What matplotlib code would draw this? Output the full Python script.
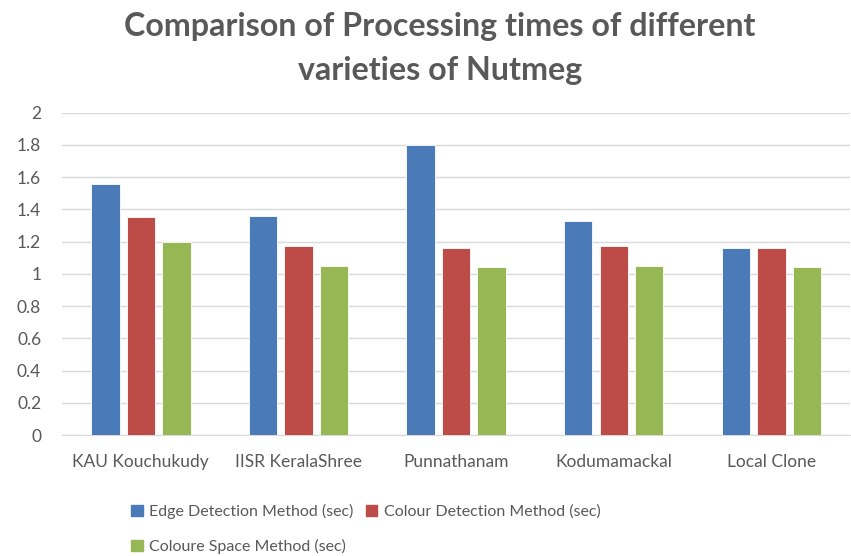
import numpy as np
import matplotlib.pyplot as plt
from matplotlib.patches import Patch

# data
varieties = ['KAU Kouchukudy', 'IISR KeralaShree', 'Punnathanam', 'Kodumamackal', 'Local Clone']
edge_detection = [1.56, 1.36, 1.80, 1.33, 1.16]
colour_detection = [1.35, 1.17, 1.16, 1.17, 1.16]
colour_space = [1.20, 1.05, 1.04, 1.05, 1.04]
series_names = ['Edge Detection Method (sec)', 'Colour Detection Method (sec)', 'Coloure Space Method (sec)']
colors = ['#4a7ab8', '#bd4b48', '#97b654']

plt.rcParams['font.family'] = ['Lato', 'DejaVu Sans']
text_col = '#595959'

fig = plt.figure(figsize=(8.51, 5.56), dpi=100)
ax = fig.add_axes([0.0729, 0.2176, 0.9261, 0.5797])

x = np.arange(len(varieties))
width = 0.18
pitch = 0.225
for i, (vals, c) in enumerate(zip([edge_detection, colour_detection, colour_space], colors)):
    ax.bar(x + (i - 1) * pitch, vals, width, color=c, edgecolor='white', linewidth=0.6, zorder=3)

ax.set_xlim(-0.5, len(varieties) - 0.5)
ax.set_ylim(0, 2)
ax.set_yticks(np.arange(0, 2.01, 0.2))
ax.set_yticklabels(['0', '0.2', '0.4', '0.6', '0.8', '1', '1.2', '1.4', '1.6', '1.8', '2'])
ax.set_xticks(x)
ax.set_xticklabels(varieties)
ax.grid(axis='y', color='#d9d9d9', linewidth=1, zorder=0)
for s in ['top', 'right', 'left']:
    ax.spines[s].set_visible(False)
ax.spines['bottom'].set_color('#d9d9d9')
ax.tick_params(axis='both', length=0, labelsize=12.5, colors=text_col)
ax.tick_params(axis='y', pad=15)
ax.tick_params(axis='x', pad=14)

fig.text(0.517, 0.978, 'Comparison of Processing times of different\nvarieties of Nutmeg',
         ha='center', va='top', fontsize=23.2, fontweight='bold', color=text_col, linespacing=1.6)

handles = [Patch(color=colors[0]), Patch(color=colors[2]), Patch(color=colors[1])]
labels = [series_names[0], series_names[2], series_names[1]]
leg = fig.legend(handles, labels, loc='upper left', bbox_to_anchor=(0.145, 0.108), ncol=2,
                 frameon=False, fontsize=11.5, handlelength=0.7, handleheight=0.7,
                 handletextpad=0.4, columnspacing=0.8, labelspacing=1.25, borderpad=0)
for t in leg.get_texts():
    t.set_color(text_col)

fig.savefig('out.png', dpi=100)
